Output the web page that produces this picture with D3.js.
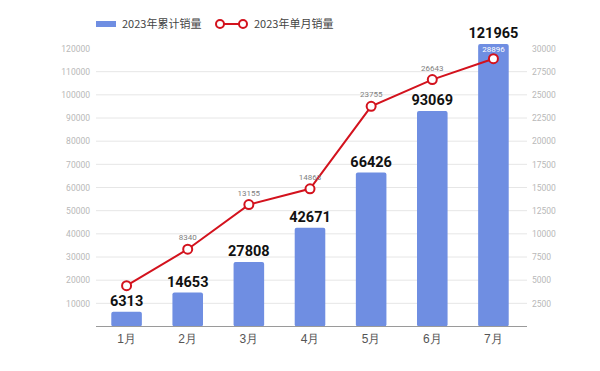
<!DOCTYPE html>
<html>
<head>
<meta charset="utf-8">
<script src="https://cdn.jsdelivr.net/npm/d3@7"></script>
<style>
  body { margin: 0; background: #fff; }
  svg { font-family: "Noto Sans CJK SC", "Noto Sans", sans-serif; }
</style>
</head>
<body>
<div id="chart"></div>
<script>
// data
const months = ['1月', '2月', '3月', '4月', '5月', '6月', '7月'];
const cumulative = [6313, 14653, 27808, 42671, 66426, 93069, 121965];
const monthly = [4400, 8340, 13155, 14863, 23755, 26643, 28896];
const monthlyLabels = [null, '8340', '13155', '14863', '23755', '26643', '28896'];
const leftTicks = [10000, 20000, 30000, 40000, 50000, 60000, 70000, 80000, 90000, 100000, 110000, 120000];
const rightTicks = [2500, 5000, 7500, 10000, 12500, 15000, 17500, 20000, 22500, 25000, 27500, 30000];

const width = 600, height = 371;
const margin = {top: 48.5, right: 73, bottom: 44.5, left: 96};
const innerW = width - margin.left - margin.right;
const innerH = height - margin.top - margin.bottom;

const svg = d3.select('#chart').append('svg').attr('width', width).attr('height', height);
const g = svg.append('g').attr('transform', `translate(${margin.left},${margin.top})`);

const x = d3.scaleBand().domain(months).range([0, 428]).paddingInner(0.5).paddingOuter(0.25);
const yL = d3.scaleLinear().domain([0, 120000]).range([innerH, 0]);
const yR = d3.scaleLinear().domain([0, 30000]).range([innerH, 0]);
const cx = i => x(months[i]) + x.bandwidth() / 2;

// grid lines
g.append('g').selectAll('line').data(leftTicks.filter(t => t < 120000)).join('line')
    .attr('x1', 0).attr('x2', innerW)
    .attr('y1', d => yL(d)).attr('y2', d => yL(d))
    .attr('stroke', '#e6e6e6').attr('stroke-width', 1);

// left axis
const axL = g.append('g').call(d3.axisLeft(yL).tickValues(leftTicks).tickFormat(d3.format('d')).tickSize(0).tickPadding(6));
axL.select('.domain').remove();
axL.selectAll('text').attr('fill', '#b8b8b8').style('font-size', '8.5px').style('font-family', 'Roboto, sans-serif');

// right axis
const axR = g.append('g').attr('transform', `translate(${innerW},0)`)
    .call(d3.axisRight(yR).tickValues(rightTicks).tickFormat(d3.format('d')).tickSize(0).tickPadding(5));
axR.select('.domain').remove();
axR.selectAll('text').attr('fill', '#b8b8b8').style('font-size', '8.5px').style('font-family', 'Roboto, sans-serif');

// bars
g.append('g').selectAll('rect').data(cumulative).join('rect')
    .attr('x', (d, i) => x(months[i]))
    .attr('y', d => yL(d))
    .attr('width', x.bandwidth())
    .attr('height', d => innerH - yL(d))
    .attr('rx', 2)
    .attr('fill', '#6f8ee2');

// baseline
g.append('line').attr('x1', 0).attr('x2', innerW).attr('y1', innerH).attr('y2', innerH)
    .attr('stroke', '#9a9a9a').attr('stroke-width', 1.2);

// x axis labels
const axX = g.append('g').attr('transform', `translate(0,${innerH})`)
    .call(d3.axisBottom(x).tickSize(0).tickPadding(8));
axX.select('.domain').remove();
axX.selectAll('text').attr('fill', '#555').style('font-size', '12px');

// bar value labels
g.append('g').selectAll('text').data(cumulative).join('text')
    .attr('x', (d, i) => cx(i))
    .attr('y', d => yL(d) - 6)
    .attr('text-anchor', 'middle')
    .attr('fill', '#111')
    .style('font-family', 'Roboto, sans-serif')
    .style('font-weight', 'bold')
    .style('font-size', '14.5px')
    .text(d => d);

// monthly line
const line = d3.line().x((d, i) => cx(i)).y(d => yR(d));
g.append('path').datum(monthly).attr('d', line)
    .attr('fill', 'none').attr('stroke', '#d3121d').attr('stroke-width', 2);
g.append('g').selectAll('circle').data(monthly).join('circle')
    .attr('cx', (d, i) => cx(i))
    .attr('cy', d => yR(d))
    .attr('r', 4.5)
    .attr('fill', '#fff').attr('stroke', '#d3121d').attr('stroke-width', 2);

// monthly labels
g.append('g').selectAll('text').data(monthly).join('text')
    .attr('x', (d, i) => cx(i))
    .attr('y', (d, i) => yR(d) - (i === monthly.length - 1 ? 7 : 9))
    .attr('text-anchor', 'middle')
    .attr('fill', (d, i) => i === monthly.length - 1 ? '#fff' : '#808080')
    .style('font-family', 'Roboto, sans-serif')
    .style('font-size', '8px')
    .text((d, i) => monthlyLabels[i] || '');

// legend
const lg = svg.append('g').attr('transform', 'translate(96,24)');
lg.append('rect').attr('x', 0).attr('y', -3).attr('width', 20).attr('height', 6).attr('fill', '#6f8ee2');
lg.append('text').attr('x', 26).attr('y', 4).attr('fill', '#444').style('font-size', '11px').text('2023年累计销量');
lg.append('line').attr('x1', 124).attr('x2', 147).attr('y1', 0).attr('y2', 0).attr('stroke', '#d3121d').attr('stroke-width', 2);
lg.selectAll('circle').data([124, 147]).join('circle')
    .attr('cx', d => d).attr('cy', 0).attr('r', 4)
    .attr('fill', '#fff').attr('stroke', '#d3121d').attr('stroke-width', 2);
lg.append('text').attr('x', 158).attr('y', 4).attr('fill', '#444').style('font-size', '11px').text('2023年单月销量');
</script>
</body>
</html>
